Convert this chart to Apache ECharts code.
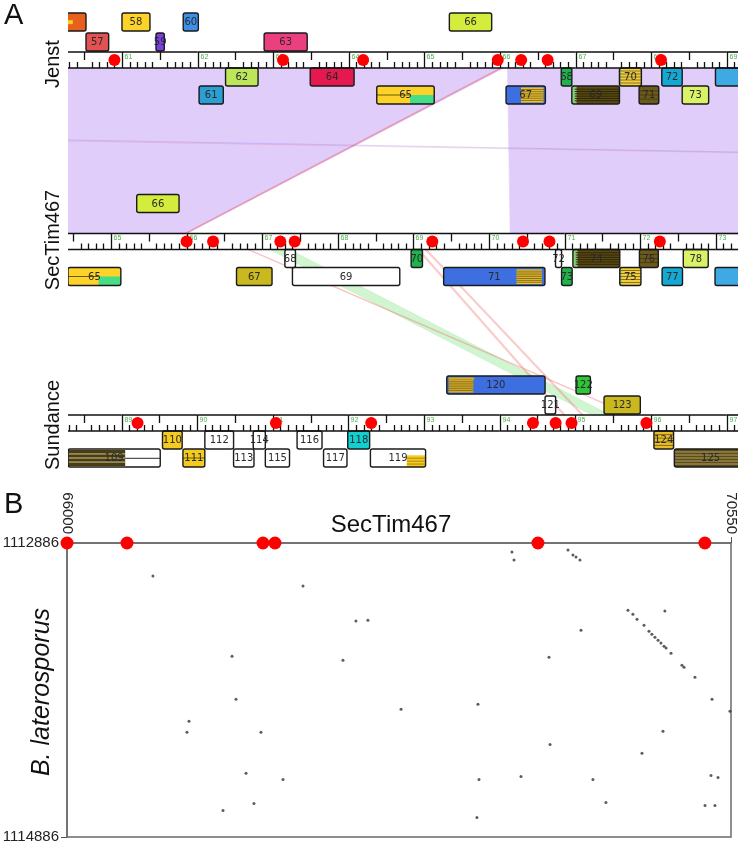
<!DOCTYPE html>
<html><head><meta charset="utf-8">
<script src="https://cdn.jsdelivr.net/npm/echarts@6/dist/echarts.min.js"></script>
<style>html,body{margin:0;padding:0;background:#fff}#c{width:738px;height:841px}</style>
</head><body><div id="c"></div>
<script>
// ================= DATA =================
// --- Panel A: genome tracks (positions in kb) ---
const jenstView = [60.286, 69.148];
const jenstTicks = [60, 61, 62, 63, 64, 65, 66, 67, 68, 69];
const jenstLabels = ['56','57','58','59','60','61','62','63','64','65','66','67','68','69','70','71','72','73','74'];
const jenstStart  = [59.80,60.524,61.00,61.45,61.81,62.02,62.37,62.88,63.49,64.37,65.33,66.08,66.81,66.95,67.58,67.84,68.14,68.41,68.85];
const jenstEnd    = [60.524,60.824,61.37,61.56,62.01,62.34,62.80,63.45,64.07,65.13,65.89,66.60,66.95,67.58,67.87,68.10,68.41,68.76,69.60];
const jenstLane   = [2,1,2,1,2,-2,-1,1,-1,-2,2,-2,-1,-2,-1,-2,-1,-2,-1];
const jenstDots   = [60.90, 63.13, 64.19, 65.97, 66.28, 66.63, 68.13];

const secView = [64.431, 73.294];
const secTicks = [64, 65, 66, 67, 68, 69, 70, 71, 72, 73];
const secLabels = ['65','66','67','68','69','70','71','72','73','74','75','76','77','78','79'];
const secStart  = [64.431,65.34,66.66,67.30,67.40,68.97,69.40,70.88,70.96,71.11,71.73,71.99,72.29,72.57,72.99];
const secEnd    = [65.13,65.90,67.13,67.44,68.82,69.12,70.74,70.96,71.10,71.73,72.01,72.24,72.56,72.90,73.80];
const secLane   = [-2,2,-2,-1,-2,-1,-2,-1,-2,-1,-2,-1,-2,-1,-2];
const secDots   = [66.00, 66.35, 67.24, 67.43, 69.25, 70.45, 70.80, 72.26];

const sunView = [88.290, 97.152];
const sunTicks = [88, 89, 90, 91, 92, 93, 94, 95, 96, 97];
const sunLabels = ['109','110','111','112','113','114','115','116','117','118','119','120','121','122','123','124','125'];
const sunStart  = [88.290,89.54,89.81,90.10,90.48,90.74,90.90,91.32,91.67,91.99,92.29,93.30,94.60,95.01,95.38,96.04,96.31];
const sunEnd    = [89.51,89.80,90.10,90.48,90.75,90.90,91.22,91.65,91.98,92.28,93.02,94.60,94.74,95.20,95.86,96.30,97.27];
const sunLane   = [-2,-1,-2,-1,-2,-1,-2,-1,-2,-1,-2,2,1,2,1,-1,-2];
const sunDots   = [89.21, 91.04, 92.30, 94.44, 94.74, 94.95, 95.94];

// --- links: [startA, endA, startB, endB] ---
const jenstSecLinks = [
  [59.00, 66.05, 63.90, 66.00],
  [66.10, 70.00, 70.28, 74.20],
  [66.00, 66.03, 65.97, 66.00],
  [7.50, 7.55, 133.00, 133.05],
  [5.00, 5.05, 134.50, 134.55]
];
const secSunLinks = [
  [67.10, 67.36, 95.22, 95.46],
  [66.80, 66.83, 95.72, 95.75],
  [69.05, 69.08, 94.84, 94.87],
  [69.15, 69.18, 95.08, 95.11]
];

// --- Panel B: dot plot ---
const bXRange = [66000, 70550];
const bYRange = [1112886, 1114886];
const bRedDots = [66000, 66411, 67343, 67425, 69227, 70371];
const bDotX = [69049,69063,69433,69467,69488,69515,66589,67617,67980,68062,67131,67891,67158,
  69844,69878,69906,69954,69988,70008,70029,70050,70070,70091,70105,70139,70214,70228,70303,70420,
  70097,69522,69303,68816,68289,66836,66822,67329,67227,67480,67069,67281,70543,70084,69310,69940,
  68823,69111,69604,70413,70461,69693,70372,70440,68809];
const bDotY = [1112947,1113002,1112934,1112968,1112981,1113002,1113111,1113179,1113417,1113411,1113656,1113683,1113949,
  1113343,1113370,1113404,1113445,1113486,1113506,1113527,1113547,1113567,1113588,1113601,1113636,1113717,1113731,1113799,1113949,
  1113349,1113479,1113663,1113983,1114017,1114099,1114174,1114174,1114453,1114494,1114705,1114658,1114031,1114167,1114256,1114317,
  1114494,1114474,1114494,1114467,1114481,1114651,1114671,1114671,1114753];

// ================= STYLES =================
const jenstFill = ['#e8601c','#e35252','#fdd329','#7a3fe0','#3d8fe8','#2b9fd3','#bde65a','#ec3f80','#e5184f','#fdd329',
  '#d4ec3c','#3d6fe0','#1fb24d','#5c4c14','#f2cf3a','#6b5a1c','#13a9d4','#d9f266','#3fa9e4'];
const secFill = ['#fdd329','#d4ec3c','#c9b81e','#ffffff','#ffffff','#1fb24d','#3d6fe0','#ffffff','#1fb24d','#5c4c14',
  '#f2cf3a','#6b5a1c','#13a9d4','#d9f266','#3fa9e4'];
const sunFill = ['#ffffff','#f5cb1f','#f5cb1f','#ffffff','#ffffff','#ffffff','#ffffff','#ffffff','#ffffff','#12d0d0',
  '#ffffff','#3d6fe0','#ffffff','#2fc43a','#c9b81e','#e6bd2a','#5c4c14'];
// overlay: [x0,x1,y0,y1,fill,stripeColor,nStripes] (fractions of box)
const OV_GREEN = [[0.58,1,0.5,1,'#44dd88',null,0],[0,0.58,0.45,0.55,null,'#6a5a10',1]];
const OV_OLIVE = [[0,0.1,0,1,'#86d07a',null,0],[0.06,1,0.05,0.95,null,'#2e2508',6]];
const OV_YSTRIPE = [[0,0.08,0,1,'#86d07a',null,0],[0,1,0,1,null,'#8a7424',5]];
const jenstOv = [[[0.66,0.76,0.4,0.62,'#f8d020',null,0]],null,null,null,null,null,null,null,null,OV_GREEN,
  null,[[0.38,0.95,0.08,0.92,'#e8c030','#8a7020',6]],null,OV_OLIVE,OV_YSTRIPE,[[0,1,0.05,0.95,null,'#4a3e10',3]],null,null,null];
const secOv = [OV_GREEN,null,null,null,null,null,[[0.72,0.97,0.1,0.92,'#e8c030','#8a7020',7]],null,null,OV_OLIVE,
  OV_YSTRIPE,[[0,1,0.05,0.95,null,'#4a3e10',3]],null,null,null];
const sunOv = [[[0,0.62,0.05,0.95,'#4a3e10','#cfc6a0',3],[0.62,1,0.48,0.55,'#555',null,0]],null,[[0,1,0.45,0.55,null,'#6a5a10',1]],
  null,null,null,null,null,null,null,[[0.66,1,0.35,1,'#f5cb1f','#b08a10',3]],[[0.02,0.27,0.08,0.92,'#d4ac28','#8a7020',6],[0.02,0.28,0.1,0.2,'#d4ac28',null,0]],
  null,null,null,[[0,1,0,1,null,'#8a6a10',4]],[[0,1,0,1,null,'#b0a070',5]]];
const jsLinkColor = ['#e0cdfa','#e0cdfa','rgba(235,120,140,0.55)','rgba(110,130,255,0.25)','rgba(240,120,140,0.25)'];
const ssLinkColor = ['rgba(120,225,120,0.35)','rgba(240,120,120,0.35)','rgba(240,120,120,0.35)','rgba(240,120,120,0.35)'];

const FONT = 'Liberation Sans, Arial, sans-serif';
const LANE_OFF = {'2': -39, '1': -19, '-1': 16, '-2': 34};
const LANE_H = 18, RULER_H = 16;
const TOPS = [52, 233.5, 415];

// ================= CHART =================
const chart = echarts.init(document.getElementById('c'), null, {renderer: 'canvas'});

function geneSeries(idx, labels, starts, ends, lanes, fills, ovs) {
  const rt = TOPS[idx];
  return {
    type: 'custom', xAxisIndex: idx, yAxisIndex: idx, z: 5, clip: true, silent: true,
    data: labels.map((l, i) => [starts[i], ends[i], lanes[i], i]),
    renderItem: (params, api) => {
      const i = api.value(3), lane = api.value(2);
      const yTop = rt + LANE_OFF[String(lane)];
      const p0 = api.coord([api.value(0), yTop]);
      const p1 = api.coord([api.value(1), yTop + LANE_H]);
      const x = p0[0], y = p0[1], w = p1[0] - p0[0], h = p1[1] - p0[1];
      const ch = [{type: 'rect', shape: {x, y, width: w, height: h, r: 2}, style: {fill: fills[i]}}];
      (ovs[i] || []).forEach(o => {
        const rx = x + w * o[0], rw = w * (o[1] - o[0]), ry = y + h * o[2], rh = h * (o[3] - o[2]);
        if (o[4]) ch.push({type: 'rect', shape: {x: rx, y: ry, width: rw, height: rh}, style: {fill: o[4]}});
        for (let k = 1; k <= o[6]; k++) {
          const yy = ry + rh * k / (o[6] + 1);
          ch.push({type: 'line', shape: {x1: rx, y1: yy, x2: rx + rw, y2: yy}, style: {stroke: o[5], lineWidth: 1}});
        }
      });
      ch.push({type: 'rect', shape: {x, y, width: w, height: h, r: 2}, style: {fill: 'none', stroke: '#1a1a1a', lineWidth: 1.4}});
      ch.push({type: 'text', style: {text: labels[i], x: x + w / 2, y: y + h / 2 + 0.5, align: 'center', verticalAlign: 'middle',
        fontSize: 10, fill: '#2a2a2a', fontFamily: 'DejaVu Sans, sans-serif'}});
      return {type: 'group', children: ch};
    }
  };
}

function rulerSeries(idx, ticks, view) {
  const rt = TOPS[idx];
  return {
    type: 'custom', xAxisIndex: idx, yAxisIndex: idx, z: 6, clip: true, silent: true,
    data: ticks.map(t => [t]),
    renderItem: (params, api) => {
      const v = api.value(0);
      const yT = api.coord([v, rt])[1], yB = api.coord([v, rt + RULER_H])[1];
      const ch = [];
      const a = Math.max(v, view[0]), b = Math.min(v + 1, view[1]);
      if (b > a) {
        const xa = api.coord([a, rt])[0], xb = api.coord([b, rt])[0];
        ch.push({type: 'line', shape: {x1: xa, y1: yT, x2: xb, y2: yT}, style: {stroke: '#111', lineWidth: 1.6}});
        ch.push({type: 'line', shape: {x1: xa, y1: yB, x2: xb, y2: yB}, style: {stroke: '#111', lineWidth: 1.6}});
      }
      for (let k = 0; k < 10; k++) {
        const tv = v + k / 10;
        if (tv < view[0] || tv > view[1]) continue;
        const x = Math.round(api.coord([tv, rt])[0]) + 0.5;
        if (k === 0) {
          ch.push({type: 'line', shape: {x1: x, y1: yT, x2: x, y2: yB}, style: {stroke: '#111', lineWidth: 1.3}});
          ch.push({type: 'text', style: {text: String(v), x: x + 2, y: yT + 1.5, align: 'left', verticalAlign: 'top',
            fontSize: 7, fill: '#4cb04c', fontFamily: FONT}});
        } else if (k === 5) {
          ch.push({type: 'line', shape: {x1: x, y1: yT, x2: x, y2: yT + 8}, style: {stroke: '#111', lineWidth: 1.3}});
        } else {
          ch.push({type: 'line', shape: {x1: x, y1: yB - 6, x2: x, y2: yB}, style: {stroke: '#111', lineWidth: 1.3}});
        }
      }
      return {type: 'group', children: ch};
    }
  };
}

function dotSeries(idx, dots) {
  return {type: 'scatter', xAxisIndex: idx, yAxisIndex: idx, z: 8, clip: false, silent: true,
    symbolSize: 12, itemStyle: {color: '#ff0000', opacity: 1},
    data: dots.map(v => [v, TOPS[idx] + RULER_H / 2])};
}

const views = [jenstView, secView, sunView];
const grids = [0, 1, 2].map(() => ({left: 68, top: 0, width: 670, height: 470, show: false, outerBoundsMode: 'none', containLabel: false}));
grids.push({left: 67, top: 543, width: 664, height: 294, show: true, borderColor: '#6b6b6b', borderWidth: 1.5,
  outerBoundsMode: 'none', containLabel: false});

const plain = v => String(v);
const xAxes = views.map((v, i) => ({gridIndex: i, type: 'value', min: v[0], max: v[1], show: false}));
xAxes.push({gridIndex: 3, type: 'value', position: 'top', min: bXRange[0], max: bXRange[1],
  axisLine: {show: true, lineStyle: {color: '#6b6b6b', width: 1.5}},
  axisTick: {show: true, customValues: bXRange, length: 6, lineStyle: {color: '#555'}},
  axisLabel: {show: true, customValues: bXRange, rotate: 90, fontSize: 15, color: '#222', margin: 9, fontFamily: FONT, formatter: plain},
  splitLine: {show: false}});
const yAxes = [0, 1, 2].map(i => ({gridIndex: i, type: 'value', min: 0, max: 470, inverse: true, show: false}));
yAxes.push({gridIndex: 3, type: 'value', inverse: true, min: bYRange[0], max: bYRange[1],
  axisLine: {show: true, lineStyle: {color: '#6b6b6b', width: 1.5}},
  axisTick: {show: true, customValues: bYRange, length: 6, lineStyle: {color: '#555'}},
  axisLabel: {show: true, customValues: bYRange, fontSize: 15, color: '#222', margin: 8, fontFamily: FONT, formatter: plain},
  splitLine: {show: false}});

const series = [
  geneSeries(0, jenstLabels, jenstStart, jenstEnd, jenstLane, jenstFill, jenstOv),
  geneSeries(1, secLabels, secStart, secEnd, secLane, secFill, secOv),
  geneSeries(2, sunLabels, sunStart, sunEnd, sunLane, sunFill, sunOv),
  rulerSeries(0, jenstTicks, jenstView),
  rulerSeries(1, secTicks, secView),
  rulerSeries(2, sunTicks, sunView),
  dotSeries(0, jenstDots), dotSeries(1, secDots), dotSeries(2, sunDots),
  {type: 'scatter', xAxisIndex: 3, yAxisIndex: 3, symbolSize: 3, z: 4, silent: true,
    itemStyle: {color: '#333'}, data: bDotX.map((x, i) => [x, bDotY[i]])},
  {type: 'scatter', xAxisIndex: 3, yAxisIndex: 3, symbolSize: 13, z: 6, clip: false, silent: true,
    itemStyle: {color: '#ff0000', opacity: 1}, data: bRedDots.map(x => [x, bYRange[0]])}
];

const graphic = [
  {type: 'text', left: 4, top: 1, style: {text: 'A', fontSize: 29, fill: '#111', fontFamily: FONT}},
  {type: 'text', left: 4, top: 490, style: {text: 'B', fontSize: 29, fill: '#111', fontFamily: FONT}},
  {type: 'text', x: 53, y: 64, rotation: Math.PI / 2, style: {text: 'Jenst', fontSize: 20, fill: '#111', fontFamily: FONT, align: 'center', verticalAlign: 'middle'}},
  {type: 'text', x: 53, y: 240, rotation: Math.PI / 2, style: {text: 'SecTim467', fontSize: 20, fill: '#111', fontFamily: FONT, align: 'center', verticalAlign: 'middle'}},
  {type: 'text', x: 53, y: 425, rotation: Math.PI / 2, style: {text: 'Sundance', fontSize: 20, fill: '#111', fontFamily: FONT, align: 'center', verticalAlign: 'middle'}},
  {type: 'text', x: 391, y: 525, style: {text: 'SecTim467', fontSize: 24, fill: '#111', fontFamily: FONT, align: 'center', verticalAlign: 'middle'}},
  {type: 'text', x: 42, y: 692, rotation: Math.PI / 2, style: {text: 'B. laterosporus', fontSize: 25, fontStyle: 'italic', fill: '#111', fontFamily: FONT, align: 'center', verticalAlign: 'middle'}}
];

chart.setOption({animation: false, backgroundColor: '#fff', grid: grids, xAxis: xAxes, yAxis: yAxes, series, graphic});

// ----- second pass: links, converted through each track's own axis -----
function linkPolys(links, ia, ib) {
  const ya = TOPS[ia] + RULER_H;
  const yb = TOPS[ib];
  return links.map(l => {
    const a0 = chart.convertToPixel({xAxisIndex: ia, yAxisIndex: ia}, [l[0], ya]);
    const a1 = chart.convertToPixel({xAxisIndex: ia, yAxisIndex: ia}, [l[1], ya]);
    const b1 = chart.convertToPixel({xAxisIndex: ib, yAxisIndex: ib}, [l[3], yb]);
    const b0 = chart.convertToPixel({xAxisIndex: ib, yAxisIndex: ib}, [l[2], yb]);
    return [a0, a1, b1, b0];
  });
}
const polysJS = linkPolys(jenstSecLinks, 0, 1);
const polysSS = linkPolys(secSunLinks, 1, 2);
function linkSeries(polys, colors) {
  return {type: 'custom', xAxisIndex: 0, yAxisIndex: 0, z: 1, clip: true, silent: true,
    data: polys.map((p, i) => [jenstView[0], i]),
    renderItem: (params, api) => {
      const i = api.value(1);
      return {type: 'polygon', shape: {points: polys[i]}, style: {fill: colors[i], stroke: colors[i], lineWidth: 0.6}};
    }};
}
chart.setOption({series: series.concat([linkSeries(polysJS, jsLinkColor), linkSeries(polysSS, ssLinkColor)])});
</script></body></html>
